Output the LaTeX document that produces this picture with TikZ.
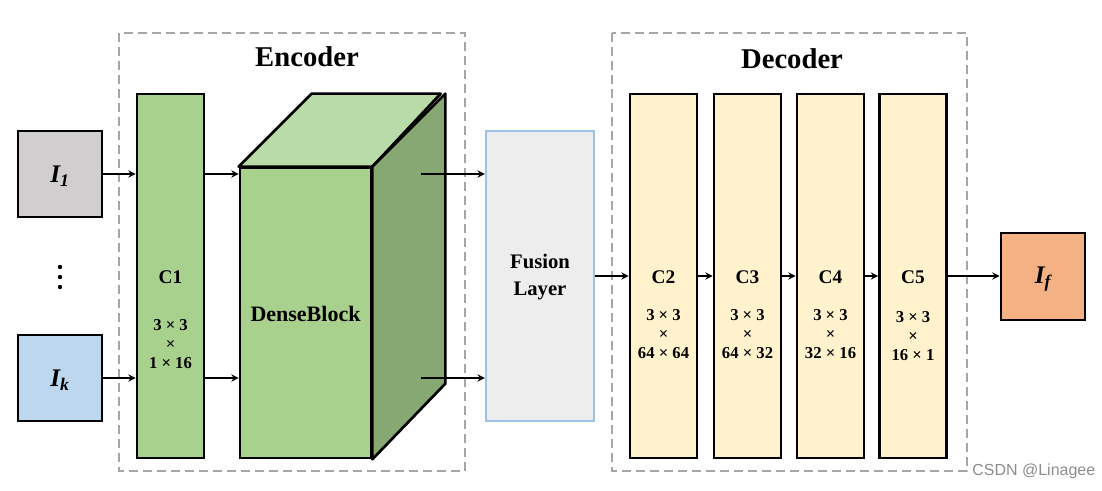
\documentclass[tikz,border=0pt]{standalone}
\usepackage{fontspec}
\setmainfont{Liberation Serif}
\newfontfamily\wmfont{Liberation Sans}
\usetikzlibrary{arrows.meta}
\definecolor{ingray}{HTML}{D0CECE}
\definecolor{inblue}{HTML}{BDD7EE}
\definecolor{cgreen}{HTML}{A9D18E}
\definecolor{cgreentop}{HTML}{B9DBA7}
\definecolor{cgreenside}{HTML}{87A872}
\definecolor{fusfill}{HTML}{EDEDED}
\definecolor{fusline}{HTML}{9DC3E6}
\definecolor{cyellow}{HTML}{FFF2CC}
\definecolor{outorange}{HTML}{F4B183}
\definecolor{dashgray}{HTML}{A6A6A6}
\newcommand{\imgsym}[1]{{\bfseries\itshape I\textsubscript{#1}}}
\tikzset{
  blk/.style={draw=black, line width=2pt, inner sep=0pt},
  inbox/.style={blk, minimum width=63pt, minimum height=64.5pt},
  convbox/.style={blk, minimum width=50.25pt, minimum height=273pt},
  groupbox/.style={draw=dashgray, line width=2pt, dash pattern=on 7pt off 3.5pt},
  grouptitle/.style={font=\fontsize{21.5}{24}\selectfont\bfseries},
  clab/.style={font=\fontsize{14.5}{16}\selectfont\bfseries},
  dims/.style={font=\fontsize{12.5}{14.25}\selectfont\bfseries, align=center},
  arr/.style={line width=1.9pt, -{Stealth[length=5.5pt,width=5.5pt]}},
  imglab/.style={font=\fontsize{19}{22}\selectfont},
  dotmark/.style={fill=black, draw=none},
}
\begin{document}
\begin{tikzpicture}[x=0.75pt,y=-0.75pt]
\useasboundingbox (0,0) rectangle (1102,491);

% group boxes
\draw[groupbox] (119,33) rectangle (465,471);
\draw[groupbox] (612,33) rectangle (967,471);
\node[grouptitle] (enct) at (307,57) {Encoder};
\node[grouptitle] (dect) at (792,59) {Decoder};

% inputs
\node[inbox, fill=ingray] (I1) at (60,174) {};
\node[imglab] (I1l) at (60,176) {\imgsym{1}};
\node[inbox, fill=inblue] (Ik) at (60,378) {};
\node[imglab] (Ikl) at (60,380) {\imgsym{k}};
\fill[dotmark] (60,267) circle (2.2);
\fill[dotmark] (60,277) circle (2.2);
\fill[dotmark] (60,287) circle (2.2);

% C1
\node[convbox, fill=cgreen] (C1) at (170.5,276) {};
\node[clab] (C1l) at (170.5,277) {C1};
\node[dims] (C1d) at (170.5,344) {3 × 3\\×\\1 × 16};

% DenseBlock cube
\node[blk, fill=cgreen, minimum width=98.25pt, minimum height=217.5pt] (DB) at (305.5,313) {};
\draw[line width=2pt, line join=round, fill=cgreentop]
  (DB.north west) -- ++(73,-73) -- ++(129,0) -- (DB.north east) -- cycle;
\draw[line width=2pt, line join=round, fill=cgreenside]
  (DB.north east) -- ++(73,-73) -- ++(0,290) -- (DB.south east) -- cycle;
\node[font=\fontsize{16.5}{20}\selectfont\bfseries] (DBl) at (305.5,314) {DenseBlock};
\coordinate (DBo1) at (421,174);
\coordinate (DBo2) at (421,378);

% Fusion layer
\node[draw=fusline, line width=1.8pt, fill=fusfill, minimum width=81pt, minimum height=217.5pt, inner sep=0pt] (F) at (540,276) {};
\node[font=\fontsize{15.5}{20}\selectfont\bfseries, align=center] (Fl) at (540,277) {Fusion\\Layer};

% decoder convs
\node[convbox, fill=cyellow] (C2) at (663.5,276) {};
\node[convbox, fill=cyellow] (C3) at (747.5,276) {};
\node[convbox, fill=cyellow] (C4) at (830.5,276) {};
\node[convbox, fill=cyellow] (C5) at (913,276) {};
\node[clab] (C2l) at (663.5,277) {C2};
\node[clab] (C3l) at (747.5,277) {C3};
\node[clab] (C4l) at (830.5,277) {C4};
\node[clab] (C5l) at (913,277) {C5};
\node[dims] (C2d) at (663.5,334) {3 × 3\\×\\64 × 64};
\node[dims] (C3d) at (747.5,334) {3 × 3\\×\\64 × 32};
\node[dims] (C4d) at (830.5,334) {3 × 3\\×\\32 × 16};
\node[dims] (C5d) at (913,336) {3 × 3\\×\\16 × 1};

% output
\node[blk, fill=outorange, minimum width=63pt, minimum height=65.25pt] (If) at (1043,276.5) {};
\node[imglab] (Ifl) at (1043,279) {\imgsym{f}};

% arrows
\draw[arr] (I1.east) -- (C1.west |- I1.east);
\draw[arr] (Ik.east) -- (C1.west |- Ik.east);
\draw[arr] (C1.east |- I1.east) -- (DB.west |- I1.east);
\draw[arr] (C1.east |- Ik.east) -- (DB.west |- Ik.east);
\draw[arr] (DBo1) -- (F.west |- DBo1);
\draw[arr] (DBo2) -- (F.west |- DBo2);
\draw[arr] (F.east) -- (C2.west);
\draw[arr] (C2.east) -- (C3.west);
\draw[arr] (C3.east) -- (C4.west);
\draw[arr] (C4.east) -- (C5.west);
\draw[arr] (C5.east) -- (If.west |- C5.east);

% watermark
\node[font=\wmfont\fontsize{12}{14}\selectfont, text=black!45, anchor=east] (wm) at (1100,471) {CSDN @Linagee};
\end{tikzpicture}
\end{document}
